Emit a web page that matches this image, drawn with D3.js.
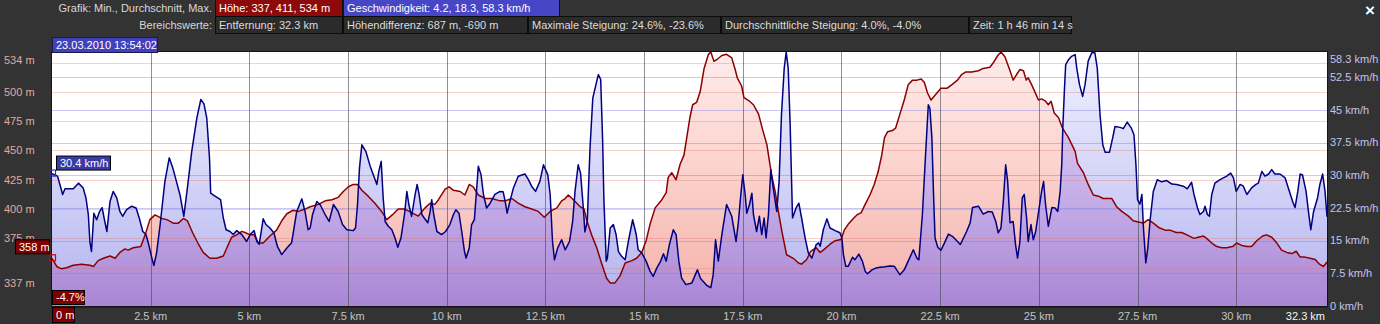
<!DOCTYPE html>
<html>
<head>
<meta charset="utf-8">
<script src="https://cdn.jsdelivr.net/npm/d3@7"></script>
<style>
  html, body { margin: 0; padding: 0; background: #333333; }
  svg { display: block; }
  text { font-family: "Liberation Sans", Arial, sans-serif; font-size: 11px; }
</style>
</head>
<body>
<svg id="chart" width="1380" height="324"></svg>
<script>
// ---- Track profile: elevation (m) along distance (km) ----
const elevKm = [0,0.12,0.24,0.37,0.54,0.75,0.96,1.05,1.17,1.30,1.47,1.60,1.72,1.85,1.93,2.06,2.25,2.36,2.48,2.61,2.78,2.91,3.07,3.20,3.33,3.43,3.56,3.71,3.83,4.00,4.17,4.34,4.47,4.55,4.68,4.81,4.89,5.02,5.12,5.23,5.35,5.52,5.69,5.82,5.95,6.11,6.24,6.41,6.54,
  6.75,6.92,7.09,7.25,7.38,7.51,7.63,7.74,7.85,8.01,8.18,8.35,8.48,8.62,8.77,8.94,9.11,9.28,9.45,9.58,9.70,9.79,9.96,10.06,10.17,10.34,10.46,10.57,10.67,10.80,10.97,11.14,11.35,11.48,11.65,11.81,11.98,12.15,12.32,12.47,12.62,12.79,12.91,13.00,
  13.08,13.21,13.38,13.48,13.55,13.67,13.80,13.93,14.05,14.14,14.26,14.39,14.52,14.69,14.81,14.94,15.05,15.15,15.28,15.45,15.56,15.61,15.70,15.81,15.91,16.01,16.08,16.16,16.23,16.33,16.42,16.52,16.63,16.69,16.77,16.86,16.97,17.09,17.22,17.30,17.36,17.47,17.53,17.67,17.77,17.90,18.00,18.11,18.23,18.32,18.40,18.49,18.61,18.78,18.91,18.99,19.12,19.22,19.36,19.46,
  19.54,19.71,19.84,19.99,20.07,20.17,20.30,20.39,20.50,20.60,20.72,20.83,20.93,21.02,21.09,21.17,21.29,21.37,21.48,21.59,21.69,21.80,21.91,22.02,22.10,22.18,22.27,22.39,22.52,22.67,22.79,22.94,23.05,23.15,23.30,23.47,23.59,23.76,23.85,23.96,24.04,24.14,24.25,24.35,24.44,24.52,24.61,24.68,24.73,24.82,24.90,24.99,25.07,25.17,25.24,25.31,25.39,25.50,25.60,25.75,25.88,25.92,
  25.98,26.13,26.25,26.38,26.51,26.63,26.85,26.97,27.10,27.27,27.39,27.52,27.65,27.77,27.90,28.05,28.20,28.32,28.48,28.62,28.75,28.93,29.04,29.17,29.25,29.38,29.51,29.63,29.76,29.91,30.01,30.14,30.27,30.39,30.52,30.67,30.77,30.90,31.03,31.15,31.28,31.41,31.52,31.62,31.74,31.87,32.00,32.11,32.21,32.28,32.30];
const elevM = [358,351,349,350,352,353,352,351,356,358,360,358,363,366,365,367,368,378,391,395,392,391,388,388,392,390,380,370,363,358,358,360,370,376,378,381,380,378,378,371,371,377,382,390,396,399,398,400,402,
  404,407,408,410,415,419,421,421,416,411,405,398,391,395,400,400,397,394,401,405,404,408,417,419,416,415,412,421,419,412,409,409,407,407,409,405,402,400,398,393,398,401,407,409,
  412,408,402,400,390,378,367,353,341,337,337,343,354,356,358,363,373,387,401,408,414,427,431,425,438,446,461,478,489,491,500,520,532,534,526,528,531,532,529,520,512,505,495,492,489,481,468,455,429,415,398,381,361,358,354,353,357,364,367,363,
  365,370,373,374,382,387,392,395,397,404,412,421,432,446,461,466,467,469,481,493,506,510,510,511,508,499,493,498,503,503,506,510,515,517,517,518,520,521,525,531,534,530,520,510,515,519,518,510,512,506,500,493,494,492,489,492,482,478,469,461,452,449,
  439,431,421,412,411,409,409,402,398,394,390,389,388,391,388,384,382,382,380,380,378,375,376,377,375,371,368,367,367,368,371,369,368,368,373,377,378,376,371,365,363,362,364,359,359,358,357,353,351,354,355];

// ---- Speed (km/h) along distance (km) ----
const speedKm = [0,0.14,0.20,0.27,0.33,0.54,0.67,0.79,0.86,0.92,0.96,1.00,1.06,1.13,1.20,1.27,1.32,1.39,1.47,1.55,1.64,1.72,1.79,1.89,2.02,2.13,2.21,2.30,2.38,2.45,2.53,2.58,2.65,2.74,2.86,2.97,3.06,3.14,3.24,3.34,3.43,3.54,3.67,3.77,3.85,3.92,3.99,4.02,4.13,4.27,4.34,4.41,4.51,4.59,4.68,4.81,4.93,5.02,5.12,5.19,5.25,5.35,5.42,5.52,5.62,5.71,5.82,5.95,6.07,6.20,6.33,6.41,6.49,6.54,
  6.60,6.71,6.79,6.92,7.02,7.13,7.25,7.36,7.47,7.63,7.69,7.74,7.79,7.85,7.95,8.06,8.14,8.23,8.28,8.34,8.39,8.44,8.52,8.61,8.69,8.76,8.84,8.93,8.99,9.04,9.11,9.20,9.25,9.30,9.37,9.43,9.52,9.58,9.62,9.67,9.75,9.87,9.97,10.08,10.17,10.23,10.31,10.38,10.45,10.49,10.57,10.63,10.70,10.76,10.80,10.87,10.93,11.01,11.10,11.22,11.35,11.43,11.48,11.53,11.60,11.69,11.81,11.98,12.07,12.15,12.25,12.36,12.45,12.56,12.62,12.68,12.73,12.81,12.91,13.00,
  13.11,13.19,13.25,13.33,13.39,13.46,13.50,13.56,13.63,13.70,13.78,13.84,13.90,13.95,13.98,14.04,14.07,14.14,14.22,14.29,14.35,14.43,14.52,14.60,14.71,14.80,14.85,14.94,15.05,15.15,15.23,15.32,15.42,15.49,15.56,15.64,15.74,15.81,15.88,15.95,16.06,16.21,16.35,16.43,16.59,16.69,16.75,16.81,16.88,16.97,17.09,17.22,17.33,17.39,17.45,17.50,17.56,17.60,17.67,17.73,17.77,17.85,17.92,17.98,18.04,18.09,18.15,18.21,18.27,18.36,18.42,18.48,18.55,18.60,18.65,18.70,18.76,18.85,18.92,18.99,19.08,19.16,19.25,19.36,19.42,19.46,
  19.54,19.63,19.71,19.84,19.96,20.01,20.05,20.11,20.17,20.28,20.34,20.44,20.53,20.60,20.66,20.77,20.87,20.98,21.10,21.23,21.34,21.42,21.48,21.59,21.69,21.82,21.91,21.96,22.05,22.13,22.20,22.24,22.29,22.33,22.37,22.44,22.52,22.61,22.71,22.81,22.94,23.01,23.09,23.17,23.26,23.32,23.47,23.59,23.72,23.82,23.91,23.97,24.04,24.10,24.16,24.21,24.27,24.35,24.41,24.46,24.52,24.58,24.63,24.69,24.73,24.80,24.86,24.92,24.97,25.07,25.12,25.17,25.24,25.33,25.41,25.48,25.54,25.58,25.61,25.65,25.68,25.75,25.83,25.92,
  25.96,26.03,26.11,26.17,26.25,26.34,26.42,26.48,26.55,26.62,26.68,26.79,26.87,26.93,27.06,27.14,27.24,27.35,27.41,27.46,27.50,27.56,27.61,27.65,27.71,27.76,27.82,27.90,28.00,28.11,28.24,28.37,28.49,28.66,28.76,28.87,28.93,29.02,29.08,29.17,29.21,29.27,29.32,29.38,29.46,29.59,29.76,29.86,29.93,30.00,30.10,30.18,30.27,30.39,30.50,30.56,30.65,30.73,30.82,30.90,30.98,31.11,31.24,31.32,31.43,31.49,31.56,31.62,31.68,31.77,31.83,31.89,31.96,32.06,32.12,32.19,32.25,32.30];
const speedKmh = [30.4,29.8,27.9,25.6,26.9,26.9,28.2,27.1,24.8,21.0,14.8,12.5,21.3,19.8,21.6,22.6,20.2,17.1,24.0,26.3,24.8,21.7,20.6,22.1,22.9,22.5,20.2,17.1,16.4,14.1,11.0,9.3,12.2,18.7,28.6,34.0,31.7,29.0,25.6,20.6,27.1,35.5,43.2,47.4,46.4,43.2,34.0,25.9,25.2,24.4,20.2,17.5,17.1,16.4,17.3,16.4,14.8,16.4,17.3,14.8,14.2,20.0,18.7,17.9,16.8,13.7,11.8,13.3,14.5,21.7,24.6,21.7,17.5,17.9,
  21.0,24.0,23.3,21.0,19.4,23.3,21.7,18.7,17.5,17.3,17.9,23.3,31.7,37.0,35.5,32.1,30.1,27.9,30.9,33.2,24.8,19.4,18.3,17.5,15.6,13.5,15.6,21.0,26.3,23.3,20.6,25.6,27.9,25.6,21.0,20.2,19.1,21.7,24.4,21.0,17.1,16.4,17.1,18.7,21.0,22.1,21.3,17.1,12.5,11.0,13.3,18.7,19.8,27.1,32.1,30.1,25.6,22.5,23.6,25.6,26.3,26.2,24.0,21.3,24.0,27.1,29.8,30.3,29.0,27.5,26.3,28.6,32.4,30.1,25.6,14.8,10.6,13.3,15.2,12.9,
  14.8,19.4,26.3,32.4,30.5,22.5,17.0,19.4,36.3,47.7,50.8,53.1,52.0,37.8,24.8,10.3,11.0,17.9,18.7,16.4,12.5,11.4,10.6,14.8,19.8,16.4,12.9,12.2,10.3,8.0,6.8,8.7,10.3,12.0,10.3,14.1,17.5,16.4,10.3,6.4,4.9,5.3,8.3,6.3,4.7,4.2,7.2,15.2,10.3,16.4,23.3,20.6,14.8,19.4,25.6,30.1,25.6,21.3,23.3,25.9,21.0,17.1,20.6,16.4,20.2,15.6,21.0,31.3,27.1,21.7,28.6,43.9,54.6,58.3,54.6,41.6,20.2,22.5,23.6,20.2,15.6,12.2,11.0,14.1,14.5,13.7,
  17.5,20.0,17.9,17.3,16.8,15.6,11.8,9.1,9.1,11.2,10.6,11.9,10.3,8.0,7.4,8.3,8.7,8.9,9.0,9.2,9.1,8.0,7.2,8.3,10.3,12.9,11.0,10.6,21.0,34.7,46.2,45.4,38.6,26.3,15.6,13.5,12.8,14.5,16.5,16.0,14.8,14.1,15.6,17.1,19.1,22.6,22.9,21.1,21.7,21.6,19.4,16.8,17.9,24.0,32.4,28.6,19.1,19.4,14.1,11.0,14.8,24.8,25.6,20.2,14.8,18.7,15.2,17.1,20.2,26.3,28.6,23.3,18.3,22.6,22.5,21.7,26.3,32.4,41.6,50.0,55.4,56.5,57.3,57.7,
  54.6,50.8,48.1,50.8,56.2,58.1,58.1,54.6,43.9,37.0,35.3,35.3,38.6,41.2,41.0,40.7,42.2,40.7,39.3,32.4,24.4,23.4,25.6,17.9,9.9,13.3,19.8,26.3,29.0,28.5,28.8,28.0,27.9,27.5,26.9,28.4,25.6,22.5,21.0,21.7,22.9,21.0,20.6,25.6,28.2,29.0,29.8,30.5,29.4,26.3,27.9,27.5,25.6,27.1,27.9,28.2,30.9,29.8,30.3,31.3,30.3,30.3,29.4,27.1,24.0,22.6,26.3,30.3,30.1,26.3,21.7,17.5,21.7,24.8,27.9,30.3,26.3,20.5];

// ---- Axis ticks ----
const distTicks = [2.5, 5, 7.5, 10, 12.5, 15, 17.5, 20, 22.5, 25, 27.5, 30];
const distEnd = 32.3;
const elevGrid = [350, 375, 400, 425, 450, 475, 500, 525];
const elevLabels = [534, 500, 475, 450, 425, 400, 375, 337];
const speedGrid = [7.5, 15, 22.5, 30, 37.5, 45, 52.5];
const speedLabels = [58.3, 52.5, 45, 37.5, 30, 22.5, 15, 7.5, 0];

// ---- Summary header ----
const headerTitles = ["Grafik: Min., Durchschnitt, Max.", "Bereichswerte:"];
const summaryRow1 = ["Höhe: 337, 411, 534 m", "Geschwindigkeit: 4.2, 18.3, 58.3 km/h"];
const summaryRow2 = ["Entfernung: 32.3 km", "Höhendifferenz: 687 m, -690 m", "Maximale Steigung: 24.6%, -23.6%", "Durchschnittliche Steigung: 4.0%, -4.0%", "Zeit: 1 h 46 min 14 s"];
const cursorTime = "23.03.2010 13:54:02";
const cursorSpeed = 30.4, cursorElev = 358, cursorGrade = "-4.7%", cursorDist = "0 m";

// ---- Layout ----
const W = 1380, H = 324;
const plot = { left: 52, right: 1327, top: 52, bottom: 306 };

const x = d3.scaleLinear().domain([0, distEnd]).range([plot.left, plot.right]);
const yE = d3.scaleLinear().domain([317.3, 534]).range([plot.bottom, plot.top]);
const yS = d3.scaleLinear().domain([0, 58.3]).range([plot.bottom, plot.top]);

const elevData = elevKm.map((d, i) => ({ d, v: elevM[i] }));
const speedData = speedKm.map((d, i) => ({ d, v: speedKmh[i] }));

const svg = d3.select("#chart");
svg.append("rect").attr("width", W).attr("height", H).attr("fill", "#333333");

const defs = svg.append("defs");
function vGrad(id, stops) {
  const g = defs.append("linearGradient").attr("id", id)
    .attr("gradientUnits", "userSpaceOnUse")
    .attr("x1", 0).attr("x2", 0).attr("y1", plot.top).attr("y2", plot.bottom);
  stops.forEach(([o, c]) => g.append("stop").attr("offset", o).attr("stop-color", c));
}
vGrad("gElev", [[0, "#feeceb"], [0.5, "#fbd0cb"], [1, "#f3b0a8"]]);
vGrad("gSpeed", [[0, "#f0f0ff"], [0.5, "#d4d4f8"], [1, "#b2b2ef"]]);
vGrad("gBoth", [[0, "#e4d8f6"], [0.5, "#c9b4ea"], [1, "#aa86d5"]]);

const areaE = d3.area().x(p => x(p.d)).y0(plot.bottom).y1(p => yE(p.v));
const areaS = d3.area().x(p => x(p.d)).y0(plot.bottom).y1(p => yS(p.v));
const lineE = d3.line().x(p => x(p.d)).y(p => yE(p.v));
const lineS = d3.line().x(p => x(p.d)).y(p => yS(p.v));

defs.append("clipPath").attr("id", "clipSpeed").append("path").attr("d", areaS(speedData));
defs.append("clipPath").attr("id", "clipPlot").append("rect")
  .attr("x", plot.left).attr("y", plot.top)
  .attr("width", plot.right - plot.left).attr("height", plot.bottom - plot.top);

const g = svg.append("g").attr("clip-path", "url(#clipPlot)");
g.append("rect").attr("x", plot.left).attr("y", plot.top)
  .attr("width", plot.right - plot.left).attr("height", plot.bottom - plot.top)
  .attr("fill", "#ffffff");

// elevation only, speed only, then the overlap of both
g.append("path").attr("d", areaE(elevData)).attr("fill", "url(#gElev)");
g.append("path").attr("d", areaS(speedData)).attr("fill", "url(#gSpeed)");
g.append("path").attr("d", areaE(elevData)).attr("fill", "url(#gBoth)")
  .attr("clip-path", "url(#clipSpeed)");

// grid
g.selectAll(".ge").data(elevGrid).join("line")
  .attr("x1", plot.left).attr("x2", plot.right)
  .attr("y1", d => Math.round(yE(d)) + 0.5).attr("y2", d => Math.round(yE(d)) + 0.5)
  .attr("stroke", "rgba(225,120,110,0.35)").attr("stroke-width", 1);
g.selectAll(".gs").data(speedGrid).join("line")
  .attr("x1", plot.left).attr("x2", plot.right)
  .attr("y1", d => Math.round(yS(d)) + 0.5).attr("y2", d => Math.round(yS(d)) + 0.5)
  .attr("stroke", "rgba(120,120,225,0.4)").attr("stroke-width", 1);
g.selectAll(".gx").data(distTicks).join("line")
  .attr("x1", d => Math.round(x(d)) + 0.5).attr("x2", d => Math.round(x(d)) + 0.5)
  .attr("y1", plot.top).attr("y2", plot.bottom)
  .attr("stroke", "rgba(70,70,80,0.6)").attr("stroke-width", 1);

// profile lines
g.append("path").attr("d", lineE(elevData)).attr("fill", "none")
  .attr("stroke", "#8c0000").attr("stroke-width", 1.5).attr("stroke-linejoin", "round");
g.append("path").attr("d", lineS(speedData)).attr("fill", "none")
  .attr("stroke", "#000080").attr("stroke-width", 1.5).attr("stroke-linejoin", "round");

// frame
svg.append("rect").attr("x", plot.left - 0.5).attr("y", plot.top - 0.5)
  .attr("width", plot.right - plot.left + 1).attr("height", plot.bottom - plot.top + 1)
  .attr("fill", "none").attr("stroke", "#141414").attr("stroke-width", 1);
svg.append("line").attr("x1", plot.left).attr("x2", plot.right + 1)
  .attr("y1", plot.bottom + 1).attr("y2", plot.bottom + 1)
  .attr("stroke", "#1a1a1a").attr("stroke-width", 1.5);

// left elevation labels
svg.selectAll(".le").data(elevLabels).join("text")
  .attr("x", 4).attr("y", d => Math.max(yE(d), plot.top + 8))
  .attr("dy", "0.35em").attr("fill", "#e0aaa2")
  .text(d => d + " m");

// right speed labels
svg.selectAll(".ls").data(speedLabels).join("text")
  .attr("x", plot.right + 3).attr("y", d => Math.max(yS(d), plot.top + 7))
  .attr("dy", "0.35em").attr("fill", "#c4c4ee")
  .text(d => d + " km/h");

// distance labels
svg.selectAll(".lx").data(distTicks).join("text")
  .attr("x", d => x(d)).attr("y", 316).attr("dy", "0.35em")
  .attr("text-anchor", "middle").attr("fill", "#c2c2c2")
  .text(d => d + " km");
svg.append("text").attr("x", plot.right - 2).attr("y", 316).attr("dy", "0.35em")
  .attr("text-anchor", "end").attr("fill", "#f4f4f4").text(distEnd + " km");

// boxed label helper
function box(x0, y0, w, h, fill, stroke, label, color) {
  svg.append("rect").attr("x", x0 + 0.5).attr("y", y0 + 0.5).attr("width", w - 1).attr("height", h - 1)
    .attr("fill", fill).attr("stroke", stroke).attr("stroke-width", 1);
  svg.append("text").attr("x", x0 + 4).attr("y", y0 + h / 2).attr("dy", "0.35em")
    .attr("fill", color).text(label);
}

// header
svg.append("text").attr("x", 212).attr("y", 8.5).attr("dy", "0.35em")
  .attr("text-anchor", "end").attr("fill", "#d8d8d8").text(headerTitles[0]);
svg.append("text").attr("x", 212).attr("y", 25).attr("dy", "0.35em")
  .attr("text-anchor", "end").attr("fill", "#d8d8d8").text(headerTitles[1]);

const row1Edges = [215, 343, 560];
const row1Fill = ["#8e0a0a", "#4646c6"];
summaryRow1.forEach((t, i) => box(row1Edges[i], -1, row1Edges[i + 1] - row1Edges[i], 18, row1Fill[i], "#111", t, "#ffffff"));
const row2Edges = [215, 343, 528, 721, 969, 1072];
summaryRow2.forEach((t, i) => box(row2Edges[i], 16, row2Edges[i + 1] - row2Edges[i], 18, "#2b2b2b", "#0c0c0c", t, "#dcdcdc"));

// close button
svg.append("text").attr("x", 1370).attr("y", 10).attr("dy", "0.35em").attr("text-anchor", "middle")
  .attr("fill", "#ffffff").style("font-size", "17px").style("font-weight", "bold").text("×");

// cursor readouts at the start of the track
box(52, 37, 106, 16, "#4141bb", "#1a1a4a", cursorTime, "#ffffff");

const sy = yS(cursorSpeed);
svg.append("rect").attr("x", 49.5).attr("y", sy - 3.5).attr("width", 6).attr("height", 6)
  .attr("fill", "none").attr("stroke", "#2a2ac8").attr("stroke-width", 1.2);
box(56, sy - 18, 55, 15, "#3a3aa6", "#000", cursorSpeed + " km/h", "#ffffff");

const ey = yE(cursorElev);
svg.append("rect").attr("x", 49.5).attr("y", ey - 3.5).attr("width", 6).attr("height", 6)
  .attr("fill", "none").attr("stroke", "#d40000").attr("stroke-width", 1.2);
box(15, ey - 19, 35, 15, "#7e0000", "#000", cursorElev + " m", "#ffffff");

box(52, 290, 33, 15, "#7e0000", "#000", cursorGrade, "#ffffff");
box(52, 307, 23, 16, "#7e0000", "#000", cursorDist, "#ffffff");
</script>
</body>
</html>
